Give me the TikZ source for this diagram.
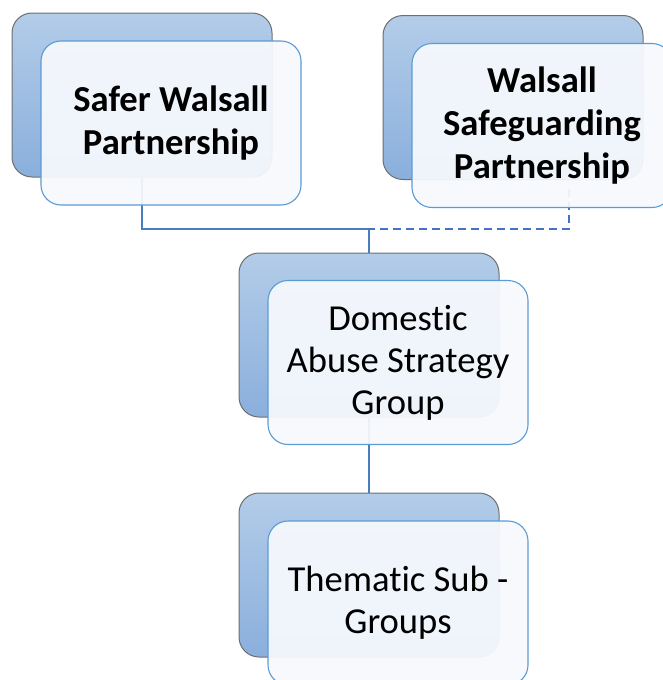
\documentclass[tikz,border=0pt]{standalone}
\usepackage{fontspec}
\setmainfont[Ligatures=NoCommon]{Carlito}
\usetikzlibrary{positioning}
\definecolor{backtop}{HTML}{B3CCE9}
\definecolor{backbot}{HTML}{8AAFDC}
\definecolor{backline}{HTML}{6E6E6E}
\definecolor{frontline}{HTML}{5B9BD5}
\definecolor{frontfill}{HTML}{F6F9FD}
\definecolor{linkline}{HTML}{4A7EBB}
\definecolor{dashline}{HTML}{4472C4}
\tikzset{x=1pt,y=-1pt,
  backbox/.style={rounded corners=20pt,draw=backline,line width=1pt,top color=backtop,bottom color=backbot,
    minimum width=260pt,minimum height=164pt,inner sep=0pt,outer sep=0pt},
  frontbox/.style={rounded corners=20pt,draw=frontline,line width=1.1pt,fill=frontfill,fill opacity=0.94,text opacity=1,
    minimum width=260pt,minimum height=164pt,inner sep=0pt,outer sep=0pt,align=center,
    font=\fontsize{36.6}{42}\selectfont},
  headbox/.style={frontbox,font=\fontsize{36.6}{43}\selectfont\bfseries},
  link/.style={draw=linkline,line width=2pt},
  dashlink/.style={draw=dashline,line width=1.6pt,dash pattern=on 8pt off 5pt}}
\begin{document}
\begin{tikzpicture}
    \useasboundingbox (0,0) rectangle (663,680);
    % back boxes
    \node[backbox] (swpb) at (142,95) {};
    \node[backbox] (wspb) at (513,97.5) {};
    \node[backbox] (dasgb) at (369,335) {};
    \node[backbox] (tsgb) at (369,575) {};
    % connectors
    \coordinate (hub) at (dasgb.north |- 0,229);
    \coordinate (wspend) at (569,189);
    \draw[link] (swpb.south) |- (hub) -- (dasgb.north);
    \draw[dashlink] (wspend) |- (hub);
    \draw[link] (dasgb.south) -- (tsgb.north);
    % front boxes
    \node[headbox] (swp) at ([shift={(29,28)}]swpb.center) {Safer Walsall\\Partnership};
    \node[headbox] (wsp) at ([shift={(29,28)}]wspb.center) {Walsall\\Safeguarding\\Partnership};
    \node[frontbox] (dasg) at ([shift={(29,27.5)}]dasgb.center) {Domestic\\Abuse Strategy\\Group};
    \node[frontbox] (tsg) at ([shift={(29,28)}]tsgb.center) {Thematic Sub -\\Groups};
\end{tikzpicture}
\end{document}
